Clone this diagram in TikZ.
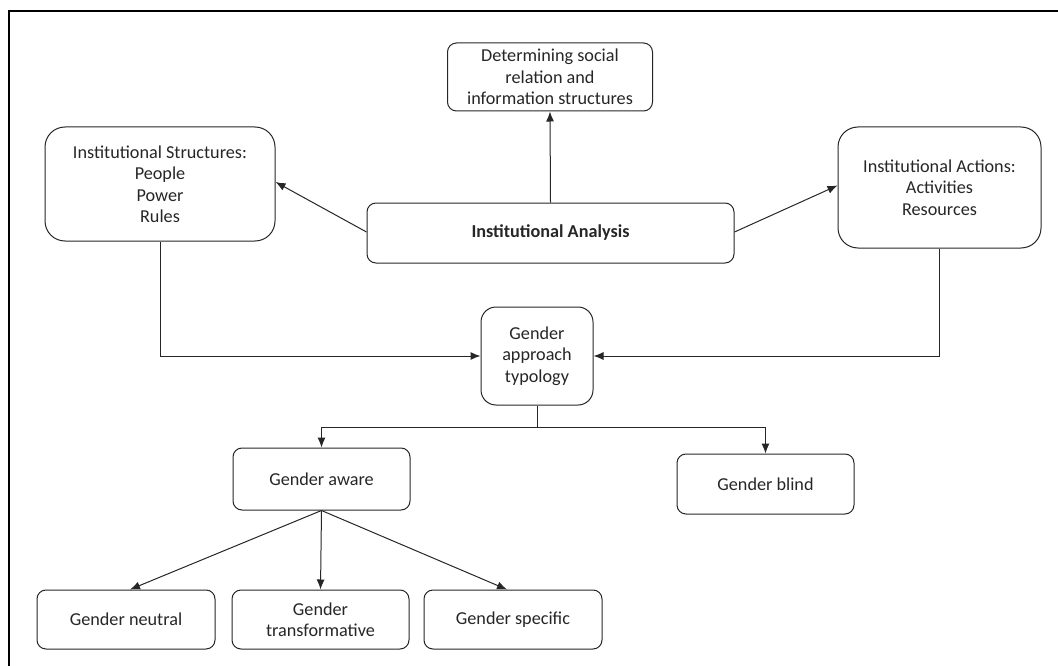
\documentclass[tikz,border=0pt]{standalone}
\usepackage{fontspec}
\setmainfont{Carlito}
\usetikzlibrary{arrows.meta}
\definecolor{ink}{HTML}{262626}
\begin{document}
\begin{tikzpicture}[x=1pt,y=-1pt,
  font=\fontsize{18.2}{21.5}\selectfont,
  box/.style={draw=ink,line width=1pt,text=ink,align=center,inner sep=0pt},
  link/.style={draw=ink,line width=1pt,-{Latex[length=10pt,width=8pt]}},
  plain/.style={draw=ink,line width=1pt}]
\useasboundingbox (0,0) rectangle (1058,666);
% frame (only top and left edges fall inside the page)
\draw[line width=2pt,black] (9,666) -- (9,11) -- (1058,11);

% upper level
\node[box,rounded corners=9pt,minimum width=205pt,minimum height=68pt] (det) at (550,77)
  {Determining social\\relation and\\information structures};
\node[box,rounded corners=20pt,minimum width=230pt,minimum height=114pt] (str) at (160,184)
  {Institutional Structures:\\People\\Power\\Rules};
\node[box,rounded corners=20pt,minimum width=203pt,minimum height=121pt] (act) at (939.5,187.5)
  {Institutional Actions:\\Activities\\Resources};
\node[box,rounded corners=9pt,minimum width=367pt,minimum height=60pt,font=\fontsize{18.2}{21.5}\selectfont\bfseries] (ana) at (550.5,233)
  {Institutional Analysis};

% typology
\node[box,rounded corners=15pt,minimum width=112pt,minimum height=98pt] (typ) at (537,356)
  {Gender\\approach\\typology};
\node[box,rounded corners=9pt,minimum width=177pt,minimum height=62pt] (awr) at (321.5,479)
  {Gender aware};
\node[box,rounded corners=9pt,minimum width=177pt,minimum height=60pt] (bld) at (765.5,484)
  {Gender blind};

% bottom row
\node[box,rounded corners=9pt,minimum width=178pt,minimum height=59pt] (neu) at (126,619.5)
  {Gender neutral};
\node[box,rounded corners=9pt,minimum width=177pt,minimum height=59pt] (trf) at (320.5,619.5)
  {Gender\\transformative};
\node[box,rounded corners=9pt,minimum width=178pt,minimum height=59pt] (spc) at (513,619.5)
  {Gender specific};

% junction points
\coordinate (split) at (537,427);

% connectors
\draw[link] (ana.north) -- (det.south);
\draw[link] ([yshift=1pt]ana.west) -- ([yshift=2pt]str.east);
\draw[link] ([yshift=1pt]ana.east) -- ([yshift=2pt]act.west);
\draw[link] (str.south) |- (typ.west);
\draw[link] (act.south) |- (typ.east);
\draw[plain] (typ.south) -- (split);
\draw[link] (split) -| (awr.north);
\draw[link] (split) -| (bld.north);
\draw[link] (awr.south) -- ([xshift=4pt]neu.north);
\draw[link] (awr.south) -- (trf.north);
\draw[link] (awr.south) -- ([xshift=-6pt]spc.north);
\end{tikzpicture}
\end{document}
